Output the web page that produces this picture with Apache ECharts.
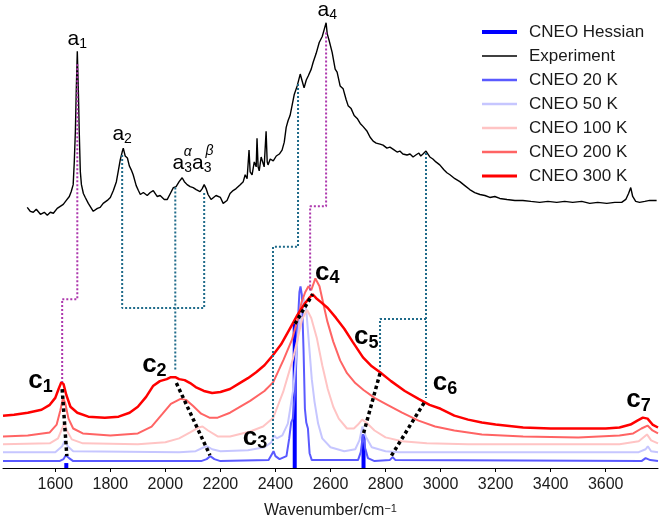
<!DOCTYPE html>
<html>
<head>
<meta charset="utf-8">
<script src="https://cdn.jsdelivr.net/npm/echarts@6/dist/echarts.min.js"></script>
<style>
  html, body { margin: 0; padding: 0; background: #fff; }
  #chart { width: 661px; height: 524px; }
</style>
</head>
<body>
<div id="chart"></div>
<script>
// wavenumber (cm^-1), intensity in arbitrary units (stacked offsets)
const tickValues = [1600, 1800, 2000, 2200, 2400, 2600, 2800, 3000, 3200, 3400, 3600];

const experiment = [
  [1498,264],[1509,260],[1520,259],[1531,262],[1546,257],[1560,259],[1571,256],[1582,259],[1593,258],
  [1607,263],[1618,265],[1629,267],[1640,271],[1651,275],[1658,280],[1665,287],[1669,310],[1673,341],
  [1676,380],[1680,422],[1684,380],[1687,341],[1691,300],[1695,287],[1702,278],[1709,274],[1720,268],
  [1727,266],[1738,260],[1745,259],[1753,263],[1763,264],[1774,268],[1789,271],[1800,274],[1811,281],
  [1822,290],[1829,301],[1836,312],[1843,320],[1847,324],[1854,316],[1862,314],[1869,306],[1876,302],
  [1883,297],[1894,286],[1902,281],[1909,277],[1920,279],[1934,276],[1945,279],[1956,281],[1970,275],
  [1981,276],[1996,272],[2007,272],[2018,278],[2029,284],[2039,285],[2050,290],[2061,294],[2069,290],
  [2079,287],[2090,285],[2101,284],[2112,282],[2126,280],[2134,283],[2141,287],[2148,283],[2155,277],
  [2166,272],[2173,271],[2184,276],[2200,274],[2210,268],[2224,271],[2235,278],[2246,281],[2257,283],
  [2272,287],[2283,290],[2290,297],[2297,293],[2304,322],[2308,300],[2315,297],[2323,310],[2330,305],
  [2333,334],[2337,305],[2341,301],[2348,315],[2355,317],[2359,305],[2366,341],[2370,310],[2373,307],
  [2381,313],[2392,311],[2403,316],[2414,318],[2424,322],[2432,330],[2439,345],[2446,352],[2453,357],
  [2461,368],[2468,378],[2479,387],[2490,399],[2497,392],[2504,385],[2512,393],[2519,397],[2530,404],
  [2537,411],[2548,420],[2559,431],[2570,437],[2577,444],[2584,451],[2588,440],[2595,433],[2606,421],
  [2617,404],[2624,401],[2635,387],[2646,384],[2657,373],[2664,367],[2675,364],[2686,357],[2697,354],
  [2708,349],[2718,346],[2733,341],[2744,335],[2755,331],[2766,329],[2780,328],[2791,327],[2805,324],
  [2816,325],[2827,323],[2842,320],[2852,321],[2863,318],[2878,317],[2889,318],[2900,315],[2910,317],
  [2921,319],[2928,316],[2936,318],[2947,321],[2954,318],[2961,315],[2972,313],[2983,310],[2997,307],
  [3012,302],[3023,299],[3034,297],[3052,293],[3070,290],[3088,286],[3106,282],[3124,279],[3143,277],
  [3161,276],[3179,274],[3197,275],[3215,273],[3241,272],[3270,271],[3299,271],[3328,270],[3360,269],
  [3390,270],[3422,269],[3451,270],[3480,269],[3513,270],[3542,268],[3571,269],[3604,268],[3633,269],
  [3658,269],[3673,272],[3683,278],[3691,284],[3698,275],[3709,270],[3723,269],[3742,270],[3760,271],
  [3785,271]
];

const cneo20 = [
  [1410,7],[1615,7],[1630,9],[1638,13],[1643,15],[1650,10],[1665,7],[2130,7],[2150,9],[2163,12],
  [2178,9],[2200,7],[2375,8],[2387,14],[2393,17],[2400,12],[2415,9],[2440,12],[2450,30],[2457,46],
  [2463,50],[2472,80],[2480,140],[2487,178],[2491,184],[2496,175],[2502,120],[2507,60],[2512,46],
  [2518,40],[2524,15],[2532,8],[2700,8],[2710,16],[2718,34],[2726,20],[2736,10],[2760,7],[2815,8],
  [2826,11],[2836,8],[3730,7],[3745,10],[3752,12],[3762,8],[3790,7]
];

const cneo50 = [
  [1410,16],[1600,16],[1625,22],[1635,28],[1645,22],[1665,17],[2050,16],[2110,17],[2140,21],[2152,22],
  [2170,19],[2200,17],[2300,18],[2360,21],[2385,26],[2395,33],[2405,30],[2425,33],[2445,45],[2465,80],
  [2480,130],[2492,160],[2502,172],[2512,160],[2522,125],[2532,90],[2542,67],[2555,45],[2570,30],
  [2600,21],[2650,17],[2690,19],[2705,28],[2716,42],[2728,32],[2750,21],[2800,17],[2850,16],[3720,16],
  [3745,19],[3753,22],[3765,17],[3790,16]
];

const cneo100 = [
  [1410,24],[1580,25],[1610,30],[1625,40],[1633,46],[1642,38],[1660,29],[1700,25],[1900,24],[2000,26],
  [2050,30],[2090,36],[2120,41],[2135,42],[2155,38],[2190,32],[2235,32],[2308,37],[2355,42],[2392,51],
  [2428,77],[2464,111],[2497,151],[2515,160],[2530,152],[2550,132],[2570,104],[2590,80],[2610,62],
  [2630,50],[2660,40],[2685,40],[2700,44],[2715,49],[2730,46],[2760,38],[2800,31],[2860,27],[2950,25],
  [3100,24],[3650,24],[3720,27],[3750,34],[3765,28],[3790,25]
];

const cneo200 = [
  [1410,32],[1500,33],[1580,36],[1605,44],[1618,58],[1628,71],[1636,66],[1648,50],[1665,40],[1700,35],
  [1800,33],[1900,35],[1950,42],[1990,55],[2020,65],[2055,70],[2075,69],[2100,63],[2130,55],[2160,51],
  [2190,51],[2235,56],[2308,68],[2360,78],[2392,87],[2430,110],[2460,130],[2480,150],[2495,168],
  [2508,178],[2520,184],[2530,180],[2545,192],[2560,184],[2575,165],[2588,149],[2610,128],[2635,109],
  [2660,96],[2690,86],[2720,79],[2760,71],[2800,65],[2860,56],[2920,48],[2980,42],[3050,38],[3150,34],
  [3300,32],[3500,31],[3650,33],[3700,35],[3730,40],[3752,43],[3770,38],[3790,35]
];

const cneo300 = [
  [1410,53],[1450,54],[1500,56],[1550,59],[1580,64],[1600,71],[1612,80],[1622,87],[1630,85],[1640,74],
  [1655,62],[1680,56],[1720,52],[1780,51],[1830,52],[1870,56],[1900,62],[1930,72],[1955,83],[1980,88],
  [2005,90],[2020,92],[2036,92],[2050,90],[2070,89],[2090,86],[2110,82],[2140,78],[2170,76],[2200,77],
  [2235,80],[2270,86],[2300,91],[2330,97],[2360,104],[2390,114],[2420,125],[2450,140],[2480,155],
  [2505,166],[2522,172],[2535,176],[2548,172],[2565,168],[2590,162],[2620,152],[2650,141],[2680,128],
  [2718,112],[2750,103],[2780,97],[2820,88],[2870,78],[2920,70],[2960,64],[3000,60],[3050,53],[3100,49],
  [3150,46],[3200,44],[3300,41],[3400,40],[3500,40],[3600,40],[3650,41],[3690,44],[3715,48],[3735,51],
  [3752,50],[3770,44],[3790,41]
];

const hessian = [[1640,5],[2470,146],[2720,34]];

// dotted assignment guides
const purpleGuides = [
  [[1680,409],[1680,171],[1625,171],[1625,87]],
  [[2584,441],[2584,265],[2526,265],[2526,179]]
];
const tealGuides = [
  [[1843,317],[1843,162],[2141,162],[2141,279]],
  [[2036,284],[2036,99]],
  [[2482,389],[2482,224],[2391,224],[2391,19]],
  [[2947,319],[2947,71]],
  [[2947,151],[2780,151],[2780,100]]
];
const blackGuides = [
  [[1625,80],[1642,12]],
  [[2040,86],[2162,13]],
  [[2471,146],[2535,176]],
  [[2780,96],[2718,33]],
  [[2940,66],[2818,11]]
];

// peak labels: [x, y, rich text]
const peakLabels = [
  [1680,434,'{a|a}{as|1}'],
  [1843,338,'{a|a}{as|2}'],
  [2097,309,'{a|a}{as|3}{a|a}{as|3}'],
  [2081,320,'{gr|α}'],
  [2160,321,'{gr|β}'],
  [2588,464,'{a|a}{as|4}'],
  [1546,88,'{c|c}{cs|1}'],
  [1960,104,'{c|c}{cs|2}'],
  [2326,31,'{c|c}{cs|3}'],
  [2588,198,'{c|c}{cs|4}'],
  [2730,133,'{c|c}{cs|5}'],
  [3016,86,'{c|c}{cs|6}'],
  [3719,69,'{c|c}{cs|7}']
];

const FONT = 'Liberation Sans, Arial, Helvetica, sans-serif';
const INK = '#000000';

function curve(name, data, color, width) {
  return {
    name, type: 'line', data, showSymbol: false, silent: true,
    lineStyle: { color, width }, itemStyle: { color }
  };
}

function guides(list, color, width, dash) {
  return list.map(d => ({
    type: 'line', data: d, showSymbol: false, silent: true, z: 4,
    lineStyle: { color, width, type: dash }
  }));
}

function txt(extra) {
  return Object.assign({ color: INK, fontFamily: FONT, textBorderWidth: 0, textShadowBlur: 0 }, extra);
}

const chart = echarts.init(document.getElementById('chart'));

chart.setOption({
  animation: false,
  grid: { left: 3, right: 3, top: 0, bottom: 50 },
  xAxis: {
    type: 'value', min: 1410, max: 3790,
    name: 'Wavenumber/cm{sup|−1}', nameLocation: 'middle', nameGap: 35,
    nameTextStyle: {
      fontSize: 16, color: '#1a1a1a', fontFamily: FONT,
      rich: { sup: { fontSize: 11, verticalAlign: 'top', lineHeight: 12, color: '#1a1a1a', fontFamily: FONT } }
    },
    axisLine: { lineStyle: { color: '#000', width: 1 } },
    axisTick: { length: 4, customValues: tickValues, lineStyle: { color: '#000' } },
    axisLabel: {
      customValues: tickValues, fontSize: 16, color: '#1a1a1a', fontFamily: FONT, margin: 9,
      formatter: v => String(v)
    },
    splitLine: { show: false }
  },
  yAxis: { type: 'value', min: 0, max: 474, show: false },
  legend: {
    left: 482, top: 23, orient: 'vertical', padding: 0,
    itemWidth: 35, itemHeight: 8, itemGap: 6, selectedMode: false,
    textStyle: { fontSize: 17, color: '#1a1a1a', fontFamily: FONT, lineHeight: 18, padding: [0, 0, 0, 7] },
    data: [
      { name: 'CNEO Hessian', icon: 'path://M0,0H36V4H0Z', itemStyle: { color: '#0000ff' } },
      { name: 'Experiment', icon: 'path://M0,0H36V1.3H0Z', itemStyle: { color: '#000' } },
      { name: 'CNEO 20 K', icon: 'path://M0,0H36V2.5H0Z', itemStyle: { color: '#5a5aff' } },
      { name: 'CNEO 50 K', icon: 'path://M0,0H36V2.5H0Z', itemStyle: { color: '#c6c6ff' } },
      { name: 'CNEO 100 K', icon: 'path://M0,0H36V2.5H0Z', itemStyle: { color: '#ffc4c4' } },
      { name: 'CNEO 200 K', icon: 'path://M0,0H36V2.5H0Z', itemStyle: { color: '#ff6464' } },
      { name: 'CNEO 300 K', icon: 'path://M0,0H36V3H0Z', itemStyle: { color: '#ff0000' } }
    ]
  },
  series: [
    curve('CNEO 20 K', cneo20, '#5a5aff', 2),
    curve('CNEO 50 K', cneo50, '#c6c6ff', 2),
    curve('CNEO 100 K', cneo100, '#ffc4c4', 2),
    curve('CNEO 200 K', cneo200, '#ff6464', 2),
    curve('CNEO 300 K', cneo300, '#ff0000', 2.5),
    {
      name: 'CNEO Hessian', type: 'bar', data: hessian, barWidth: 4, silent: true,
      itemStyle: { color: '#0000ff' }, z: 3
    },
    curve('Experiment', experiment, '#000000', 1.4),
    ...guides(purpleGuides, '#ad38ad', 2, [2, 2]),
    ...guides(tealGuides, '#1f6b8a', 2, [2, 2]),
    ...guides(blackGuides, '#000000', 3.5, [3.5, 3]),
    {
      type: 'scatter', data: peakLabels, symbolSize: 0, silent: true, z: 6,
      itemStyle: { color: INK, opacity: 1 },
      label: txt({
        show: true, position: 'inside', opacity: 1,
        formatter: p => p.value[2],
        rich: {
          a: txt({ fontSize: 21, lineHeight: 24 }),
          as: txt({ fontSize: 14, lineHeight: 14, verticalAlign: 'bottom' }),
          gr: txt({ fontSize: 14, fontStyle: 'italic' }),
          c: txt({ fontSize: 26, fontWeight: 'bold', lineHeight: 30 }),
          cs: txt({ fontSize: 18, fontWeight: 'bold', lineHeight: 18, verticalAlign: 'bottom' })
        }
      })
    }
  ]
});
</script>
</body>
</html>
